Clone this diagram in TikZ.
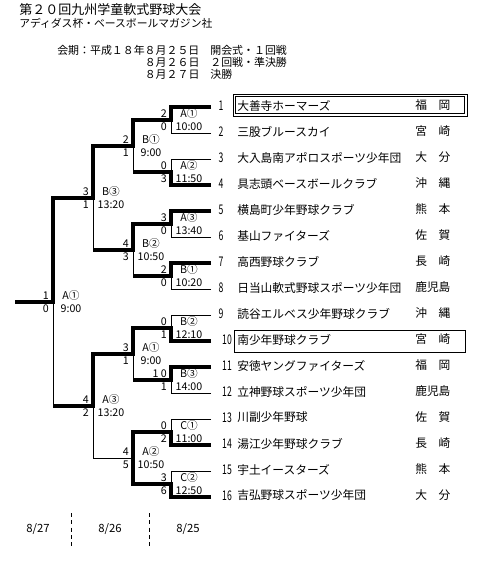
\documentclass[tikz,border=0pt]{standalone}
\usepackage{fontspec}
\usepackage{graphicx}
\setmainfont{Noto Sans CJK JP}
\begin{document}
\begin{tikzpicture}[x=0.75pt,y=-0.75pt,
  lose/.style={line width=0.75pt},
  win/.style={line width=3pt, line join=miter},
  teamlab/.style={anchor=west, inner sep=0pt, font=\fontsize{8.8pt}{10pt}\selectfont},
  numlab/.style={inner sep=0pt, font=\fontsize{10pt}{11pt}\selectfont},
  sc/.style={anchor=east, inner sep=0pt, font=\fontsize{8pt}{9pt}\selectfont},
  ml/.style={inner sep=0pt, font=\fontsize{8pt}{9pt}\selectfont},
  hd/.style={anchor=west, inner sep=0pt},
  datelab/.style={inner sep=0pt, font=\fontsize{8.5pt}{10pt}\selectfont},
  sep/.style={line width=0.75pt, dash pattern=on 3pt off 2.5pt},
  frame/.style={line width=0.75pt}
]
\useasboundingbox (0,0) rectangle (480,567);

% header
\node[hd, font=\fontsize{9.75pt}{11pt}\selectfont] (h1) at (19,10) {第２０回九州学童軟式野球大会};
\node[hd, font=\fontsize{8.1pt}{9pt}\selectfont] (h2) at (19,23) {アディダス杯・ベースボールマガジン社};
\node[hd, font=\fontsize{8.2pt}{9pt}\selectfont] (h3) at (57,50) {会期：平成１８年８月２５日　開会式・１回戦};
\node[hd, font=\fontsize{8.2pt}{9pt}\selectfont] (h4) at (144.5,62) {８月２６日　２回戦・準決勝};
\node[hd, font=\fontsize{8.2pt}{9pt}\selectfont] (h5) at (144.5,74) {８月２７日　決勝};

% teams
\foreach \i/\nm/\pf in {
  1/大善寺ホーマーズ/福　岡,
  2/三股ブルースカイ/宮　崎,
  3/大入島南アポロスポーツ少年団/大　分,
  4/具志頭ベースボールクラブ/沖　縄,
  5/横島町少年野球クラブ/熊　本,
  6/基山ファイターズ/佐　賀,
  7/高西野球クラブ/長　崎,
  8/日当山軟式野球スポーツ少年団/鹿児島,
  9/読谷エルベス少年野球クラブ/沖　縄,
  10/南少年野球クラブ/宮　崎,
  11/安徳ヤングファイターズ/福　岡,
  12/立神野球スポーツ少年団/鹿児島,
  13/川副少年野球/佐　賀,
  14/湯江少年野球クラブ/長　崎,
  15/宇土イースターズ/熊　本,
  16/吉弘野球スポーツ少年団/大　分}{
  \pgfmathsetmacro{\yy}{107+26*(\i-1)}
  \pgfmathsetmacro{\nx}{ifthenelse(\i<10,221,227)}
  \coordinate (T\i) at (171,\yy);
  \coordinate (E\i) at (211,\yy);
  \node[numlab] (num\i) at (\nx,\yy-1.5) {\scalebox{0.65}[1]{\i}};
  \node[teamlab] (name\i) at (237,\yy-1.5) {\nm};
  \node[teamlab] (pref\i) at (415,\yy-1.5) {\pf};
}

% boxes around finalists
\draw[frame] (233,94) rectangle (467,116);
\draw[frame] (235.5,96.5) rectangle (464.5,113.5);
\draw[frame] (234,330) rectangle (465,352);

% bracket coordinates
\foreach \k in {1,...,8}{
  \pgfmathsetmacro{\mm}{120+52*(\k-1)}
  \coordinate (A\k) at (171,\mm);
  \coordinate (P\k) at (133,\mm);
}
\foreach \k in {1,...,4}{
  \pgfmathsetmacro{\mm}{146+104*(\k-1)}
  \coordinate (Q\k) at (133,\mm);
  \coordinate (S\k) at (93,\mm);
}
\coordinate (U1) at (93,198);
\coordinate (U2) at (93,406);
\coordinate (V1) at (53,198);
\coordinate (V2) at (53,406);
\coordinate (W) at (53,302);
\coordinate (Z) at (15,302);

% losing lines
\draw[lose] (E2) -- (T2) -- (A1);
\draw[lose] (E3) -- (T3) -- (A2);
\draw[lose] (E6) -- (T6) -- (A3);
\draw[lose] (E8) -- (T8) -- (A4);
\draw[lose] (E9) -- (T9) -- (A5);
\draw[lose] (E12) -- (T12) -- (A6);
\draw[lose] (E13) -- (T13) -- (A7);
\draw[lose] (E15) -- (T15) -- (A8);
\draw[lose] (P2) -- (Q1);
\draw[lose] (P4) -- (Q2);
\draw[lose] (P6) -- (Q3);
\draw[lose] (Q4) -- (S4) -- (U2);
\draw[lose] (S2) -- (U1);
\draw[lose] (V2) -- (W);

% winning paths
\draw[win] (E1) -- (T1) -- (A1) -- (P1) -- (Q1) -- (S1) -- (U1) -- (V1) -- (W) -- (Z);
\draw[win] (E4) -- (T4) -- (A2) -- (P2);
\draw[win] (E5) -- (T5) -- (A3) -- (P3) -- (Q2) -- (S2);
\draw[win] (E7) -- (T7) -- (A4) -- (P4);
\draw[win] (E10) -- (T10) -- (A5) -- (P5) -- (Q3) -- (S3) -- (U2) -- (V2);
\draw[win] (E11) -- (T11) -- (A6) -- (P6);
\draw[win] (E14) -- (T14) -- (A7) -- (P7) -- (Q4);
\draw[win] (E16) -- (T16) -- (A8) -- (P8) -- (Q4);

% match labels
\foreach \x/\m/\u/\l/\lab/\tt/\n in {
  171/120/2/0/A①/10:00/1,
  171/172/0/3/A②/11:50/2,
  171/224/3/0/A③/13:40/3,
  171/276/2/0/B①/10:20/4,
  171/328/0/1/B②/12:10/5,
  171/380/1 0/1/B③/14:00/6,
  171/432/0/2/C①/11:00/7,
  171/484/3/6/C②/12:50/8,
  133/146/2/1/B①/9:00/9,
  133/250/4/3/B②/10:50/10,
  133/354/3/1/A①/9:00/11,
  133/458/4/5/A②/10:50/12,
  93/198/3/1/B③/13:20/13,
  93/406/4/2/A③/13:20/14,
  53/302/1/0/A①/9:00/15}{
  \node[sc] (su\n) at (\x-4,\m-6.5) {\u};
  \node[sc] (sl\n) at (\x-4,\m+6.5) {\l};
  \node[ml] (gl\n) at (\x+18,\m-6.5) {\lab};
  \node[ml] (gt\n) at (\x+18,\m+6.5) {\tt};
}

% day separators and dates
\coordinate (d1t) at (71,513);
\coordinate (d1b) at (71,548);
\coordinate (d2t) at (149,513);
\coordinate (d2b) at (149,548);
\draw[sep] (d1t) -- (d1b);
\draw[sep] (d2t) -- (d2b);
\node[datelab] (day3) at (38,529) {8/27};
\node[datelab] (day2) at (110,529) {8/26};
\node[datelab] (day1) at (188,529) {8/25};
\end{tikzpicture}
\end{document}
